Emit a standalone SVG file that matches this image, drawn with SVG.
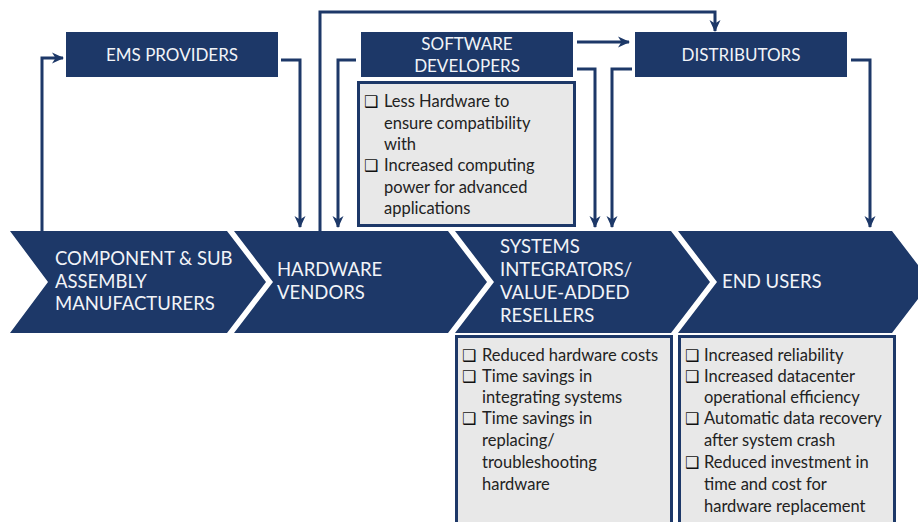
<svg xmlns="http://www.w3.org/2000/svg" width="918" height="522" viewBox="0 0 918 522">
<defs>
<style>
.navy{fill:#1d3868;}
.hdr{font-family:"Lato","Liberation Sans",sans-serif;font-size:17px;fill:#f2f4f8;}
.chev{font-family:"Lato","Liberation Sans",sans-serif;font-size:18.5px;fill:#f2f4f8;}
.det{fill:#e8e8e8;stroke:#1d3868;stroke-width:3;}
.dt{font-family:"Lato","Liberation Sans",sans-serif;font-size:16.5px;fill:#222;}
.cb{font-family:"DejaVu Sans",sans-serif;font-size:16px;font-weight:bold;fill:#111;}
.con{fill:none;stroke:#1d3868;stroke-width:3;marker-end:url(#ah);}
</style>
<marker id="ah" viewBox="0 0 12 12" refX="11" refY="6" markerWidth="12" markerHeight="12" markerUnits="userSpaceOnUse" orient="auto">
<path d="M0,0.5 L12,6 L0,11.5 L3.5,6 z" fill="#1d3868"/>
</marker>
</defs>
<rect width="918" height="522" fill="#ffffff"/>

<g id="connectors">
<path class="con" d="M42,231 V58 H63"/>
<path class="con" d="M281,60 H300 V227"/>
<path class="con" d="M356,60 H338 V227"/>
<path class="con" d="M320,231 V12 H715 V31"/>
<path class="con" d="M577,42 H629"/>
<path class="con" d="M577,69 H595 V227"/>
<path class="con" d="M632,69 H612 V227"/>
<path class="con" d="M851,60 H870 V227"/>
</g>

<g id="ems-providers">
<rect class="navy" x="66" y="32" width="212" height="45"/>
<text class="hdr" x="172" y="61" text-anchor="middle">EMS PROVIDERS</text>
</g>

<g id="software-developers">
<rect class="navy" x="361" y="32" width="212" height="45"/>
<text class="hdr" x="467" y="50" text-anchor="middle">SOFTWARE</text>
<text class="hdr" x="467" y="72" text-anchor="middle">DEVELOPERS</text>
</g>

<g id="software-developers-details">
<rect class="det" x="358.5" y="82.5" width="216" height="143"/>
<text class="cb" x="364" y="107">❑</text>
<text class="dt" x="384" y="107">Less Hardware to</text>
<text class="dt" x="384" y="129">ensure compatibility</text>
<text class="dt" x="384" y="150">with</text>
<text class="cb" x="364" y="171">❑</text>
<text class="dt" x="384" y="171">Increased computing</text>
<text class="dt" x="384" y="193">power for advanced</text>
<text class="dt" x="384" y="214">applications</text>
</g>

<g id="distributors">
<rect class="navy" x="635" y="32" width="212" height="45"/>
<text class="hdr" x="741" y="61" text-anchor="middle">DISTRIBUTORS</text>
</g>

<g id="component-manufacturers">
<polygon class="navy" points="10,231 227,231 266,282 227,333 10,333 48,282"/>
<text class="chev" x="55" y="265">COMPONENT &amp; SUB</text>
<text class="chev" x="55" y="288">ASSEMBLY</text>
<text class="chev" x="55" y="310">MANUFACTURERS</text>
</g>

<g id="hardware-vendors">
<polygon class="navy" points="234,231 448,231 487,282 448,333 234,333 273,282"/>
<text class="chev" x="277" y="276">HARDWARE</text>
<text class="chev" x="277" y="299">VENDORS</text>
</g>

<g id="systems-integrators">
<polygon class="navy" points="455,231 671,231 710,282 671,333 455,333 494,282"/>
<text class="chev" x="500" y="253">SYSTEMS</text>
<text class="chev" x="500" y="276">INTEGRATORS/</text>
<text class="chev" x="500" y="299">VALUE-ADDED</text>
<text class="chev" x="500" y="322">RESELLERS</text>
</g>

<g id="end-users">
<polygon class="navy" points="678,231 892,231 931,282 892,333 678,333 717,282"/>
<text class="chev" x="722" y="288">END USERS</text>
</g>

<g id="systems-integrators-details">
<rect class="det" x="456.5" y="336.5" width="215" height="190"/>
<text class="cb" x="462" y="361">❑</text>
<text class="dt" x="482" y="361">Reduced hardware costs</text>
<text class="cb" x="462" y="382">❑</text>
<text class="dt" x="482" y="382">Time savings in</text>
<text class="dt" x="482" y="403">integrating systems</text>
<text class="cb" x="462" y="424">❑</text>
<text class="dt" x="482" y="424">Time savings in</text>
<text class="dt" x="482" y="446">replacing/</text>
<text class="dt" x="482" y="468">troubleshooting</text>
<text class="dt" x="482" y="490">hardware</text>
</g>

<g id="end-users-details">
<rect class="det" x="679.5" y="336.5" width="215" height="190"/>
<text class="cb" x="685" y="361">❑</text>
<text class="dt" x="704" y="361">Increased reliability</text>
<text class="cb" x="685" y="382">❑</text>
<text class="dt" x="704" y="382">Increased datacenter</text>
<text class="dt" x="704" y="403">operational efficiency</text>
<text class="cb" x="685" y="424">❑</text>
<text class="dt" x="704" y="424">Automatic data recovery</text>
<text class="dt" x="704" y="446">after system crash</text>
<text class="cb" x="685" y="468">❑</text>
<text class="dt" x="704" y="468">Reduced investment in</text>
<text class="dt" x="704" y="490">time and cost for</text>
<text class="dt" x="704" y="512">hardware replacement</text>
</g>
</svg>
